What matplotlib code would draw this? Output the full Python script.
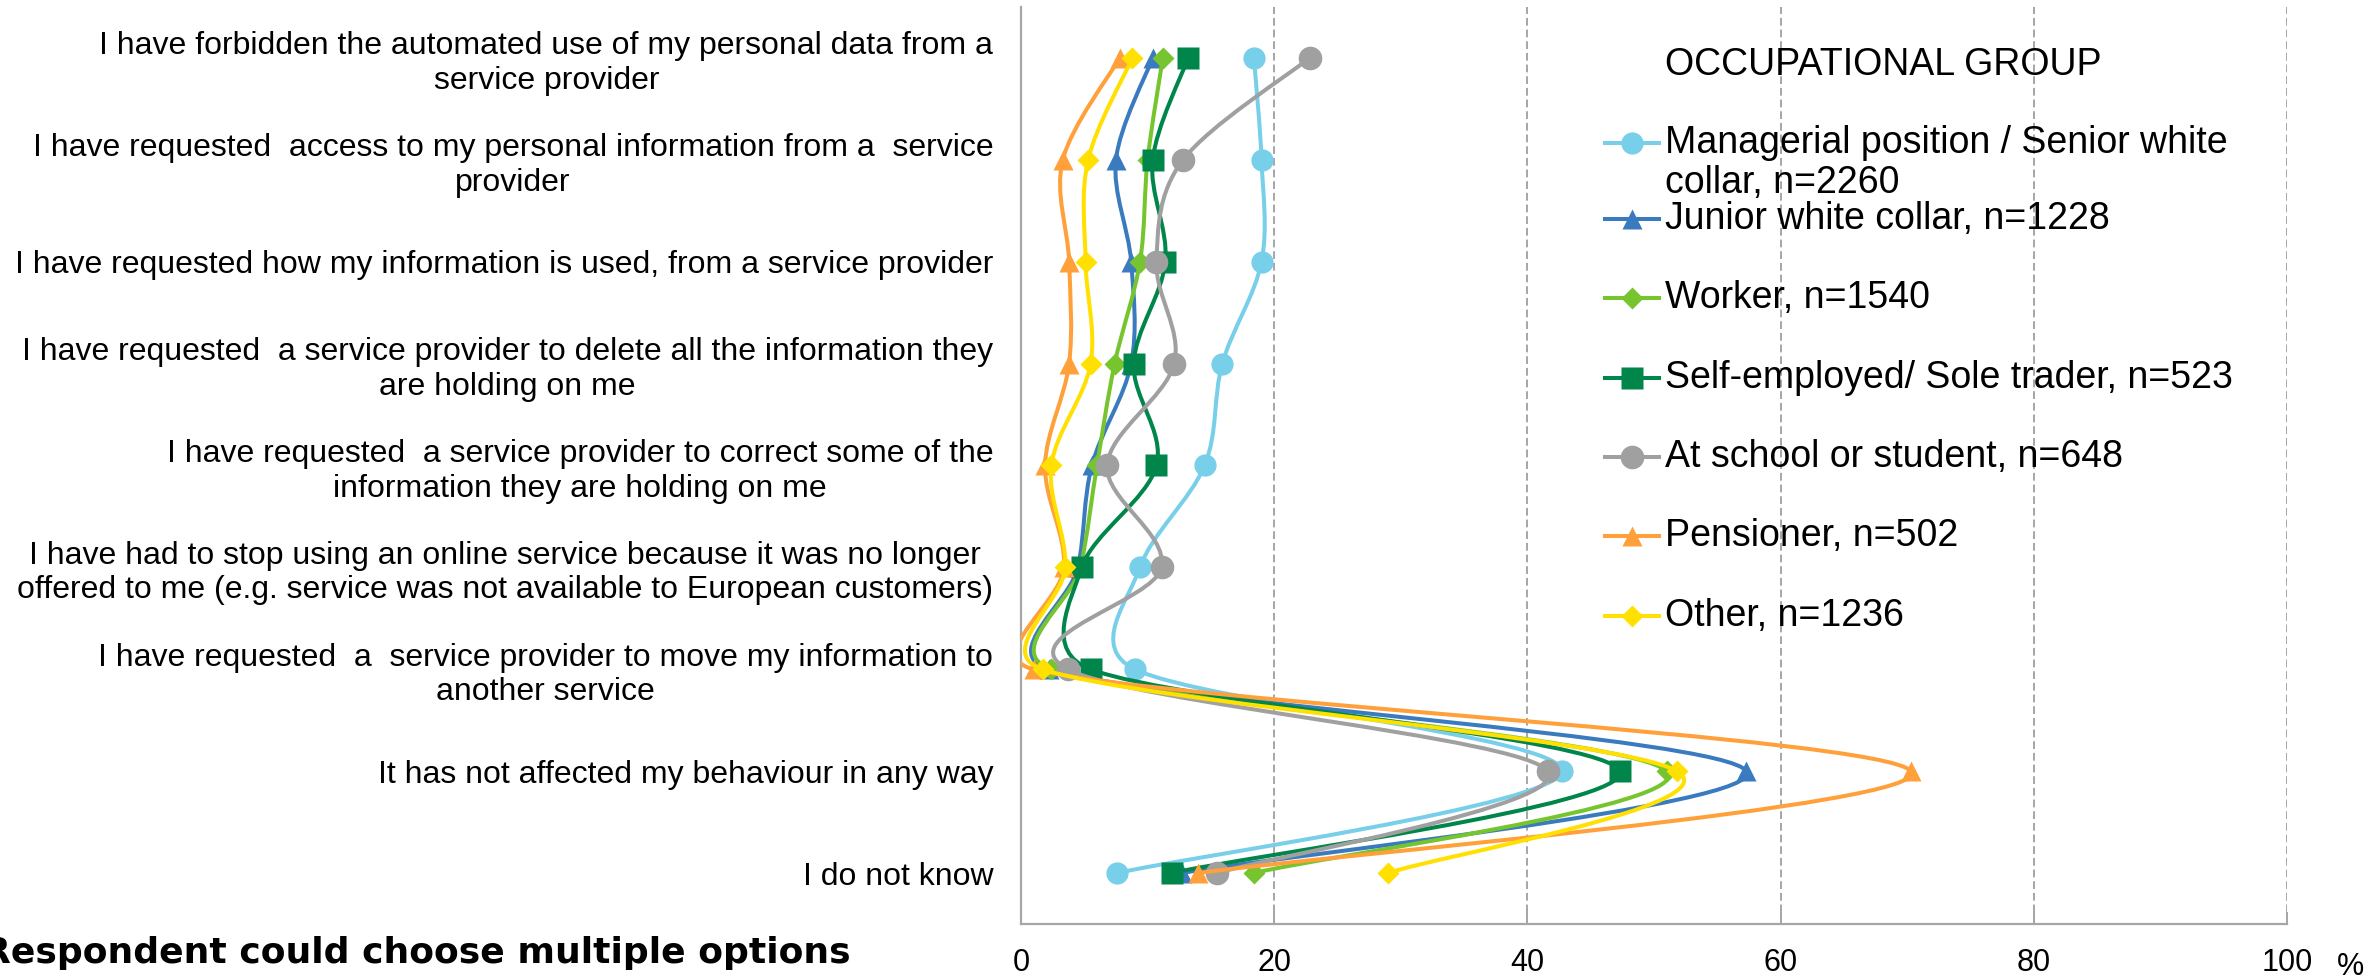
import matplotlib
matplotlib.use("Agg")
import matplotlib.pyplot as plt
from matplotlib.path import Path
from matplotlib.patches import PathPatch
from matplotlib.lines import Line2D
import numpy as np

plt.rcParams['font.family'] = ['Liberation Sans', 'DejaVu Sans']

#---------------------------------------#
# DATA                                  #
#---------------------------------------#
# actions taken, top to bottom
ACTIONS = [
    "I have forbidden the automated use of my personal data from a\nservice provider",
    "I have requested  access to my personal information from a  service\nprovider",
    "I have requested how my information is used, from a service provider",
    "I have requested  a service provider to delete all the information they\nare holding on me",
    "I have requested  a service provider to correct some of the\ninformation they are holding on me",
    "I have had to stop using an online service because it was no longer\noffered to me (e.g. service was not available to European customers)",
    "I have requested  a  service provider to move my information to\nanother service",
    "It has not affected my behaviour in any way",
    "I do not know",
]

# share of respondents (%) per occupational group, same order as ACTIONS
MANAGERIAL = [18.4, 19.0, 19.0, 15.9, 14.5, 9.4, 9.0, 42.7, 7.6]
JUNIOR = [10.4, 7.5, 8.7, 8.7, 5.6, 4.5, 2.2, 57.3, 12.7]
WORKER = [11.2, 10.0, 9.4, 7.4, 6.0, 4.7, 2.4, 51.0, 18.4]
SELF_EMPLOYED = [13.2, 10.4, 11.4, 8.9, 10.7, 4.8, 5.5, 47.3, 11.9]
STUDENT = [22.8, 12.8, 10.7, 12.1, 6.8, 11.1, 3.7, 41.6, 15.5]
PENSIONER = [7.8, 3.3, 3.8, 3.8, 1.9, 3.4, 1.0, 70.3, 14.0]
OTHER = [8.8, 5.3, 5.1, 5.5, 2.4, 3.5, 1.7, 51.8, 29.0]

SERIES = [MANAGERIAL, JUNIOR, WORKER, SELF_EMPLOYED, STUDENT, PENSIONER, OTHER]
SERIES_LABELS = [
    "Managerial position / Senior white\ncollar, n=2260",
    "Junior white collar, n=1228",
    "Worker, n=1540",
    "Self-employed/ Sole trader, n=523",
    "At school or student, n=648",
    "Pensioner, n=502",
    "Other, n=1236",
]
X_TICKS = [0, 20, 40, 60, 80, 100]

#---------------------------------------#
# STYLE                                 #
#---------------------------------------#
SERIES_COLOURS = ['#78CFEA', '#3A7BBF', '#76C52E', '#00854A',
                  '#A0A0A0', '#FFA03A', '#FFE000']
SERIES_MARKERS = ['o', '^', 'D', 's', 'o', '^', 'D']
SERIES_MSIZE = [16, 15, 11.5, 16, 17, 15, 11.5]
GRID_COLOUR = '#A6A6A6'

W, H = 2369, 980
AX_LEFT, AX_RIGHT, AX_TOP, AX_BOTTOM = 1021, 2287, 7, 924


def smooth_path(xs, ys, sx, sy):
    """excel style smoothed line: cubic beziers whose handles are
    capped at half the segment length (measured in pixels)"""
    pts = np.column_stack([xs, ys]).astype(float)
    scale = np.array([sx, sy])
    n = len(pts)
    verts = [pts[0]]
    codes = [Path.MOVETO]
    for i in range(n - 1):
        p0 = pts[max(i - 1, 0)]
        p1 = pts[i]
        p2 = pts[i + 1]
        p3 = pts[min(i + 2, n - 1)]
        d02 = np.hypot(*((p2 - p0) * scale))
        d12 = np.hypot(*((p2 - p1) * scale))
        d13 = np.hypot(*((p3 - p1) * scale))
        f = 1 / 6
        g = 1 / 6
        if d02 / 6 >= d12 / 2 and d02 > 0:
            f = d12 / d02 / 2
        if d13 / 6 >= d12 / 2 and d13 > 0:
            g = d12 / d13 / 2
        c1 = p1 + f * (p2 - p0)
        c2 = p2 - g * (p3 - p1)
        verts += [c1, c2, p2]
        codes += [Path.CURVE4] * 3
    return Path(verts, codes)


def fx(px):
    return px / W


def fy(px):
    return 1 - px / H


fig = plt.figure(figsize=(W / 100, H / 100), dpi=100)
ax = fig.add_axes([fx(AX_LEFT), fy(AX_BOTTOM),
                   fx(AX_RIGHT) - fx(AX_LEFT), fy(AX_TOP) - fy(AX_BOTTOM)])

rows = np.arange(len(ACTIONS))
# pixels per data unit, used for the bezier handle limits
px_x = (AX_RIGHT - AX_LEFT) / 100
px_y = (AX_BOTTOM - AX_TOP) / len(ACTIONS)
for i, values in enumerate(SERIES):
    patch = PathPatch(smooth_path(values, rows, px_x, px_y), fill=False,
                      edgecolor=SERIES_COLOURS[i], lw=2.9,
                      capstyle='round', joinstyle='round', zorder=3 + 2 * i)
    ax.add_patch(patch)
    ax.plot(values, rows, linestyle='none', marker=SERIES_MARKERS[i],
            ms=SERIES_MSIZE[i], color=SERIES_COLOURS[i], mec='none',
            zorder=4 + 2 * i)

ax.set_xlim(0, 100)
ax.set_ylim(len(ACTIONS) - 0.5, -0.5)

ax.set_yticks(rows)
ax.set_yticklabels(ACTIONS, fontsize=23)
for lbl in ax.get_yticklabels():
    lbl.set_multialignment('center')
    lbl.set_linespacing(1.2)
ax.tick_params(axis='y', length=0, pad=20)

ax.set_xticks(X_TICKS)
ax.set_xticklabels([str(t) for t in X_TICKS], fontsize=22)
ax.tick_params(axis='x', direction='in', length=9, width=1.4,
               color=GRID_COLOUR, pad=17)

ax.xaxis.grid(True, linestyle=(0, (4, 2)), color=GRID_COLOUR, lw=1.4)
ax.set_axisbelow(True)
for side in ['top', 'right']:
    ax.spines[side].set_visible(False)
for side in ['left', 'bottom']:
    ax.spines[side].set_color(GRID_COLOUR)
    ax.spines[side].set_linewidth(1.6)

# percent sign next to the last tick
fig.text(fx(2351), fy(967), '%', fontsize=22, ha='center', va='center')

# footnote
fig.text(fx(851), fy(953), 'Respondent could choose multiple options',
         fontsize=26, fontweight='bold', family='DejaVu Sans',
         ha='right', va='center')

# legend, built by hand so the two line entry sits like the original
fig.text(fx(1665), fy(65), 'OCCUPATIONAL GROUP', fontsize=27, va='center')
legend_rows = [143, 219, 298, 378, 457, 536, 616]
for i, label in enumerate(SERIES_LABELS):
    y = fy(legend_rows[i])
    fig.add_artist(Line2D([fx(1605), fx(1632), fx(1659)], [y, y, y],
                          color=SERIES_COLOURS[i], lw=2.9,
                          marker=SERIES_MARKERS[i], markevery=[1],
                          ms=SERIES_MSIZE[i], mec='none'))
    for j, part in enumerate(label.split('\n')):
        fig.text(fx(1665), fy(legend_rows[i] + 40 * j), part,
                 fontsize=27, va='center')

fig.savefig('out.png', dpi=100)
